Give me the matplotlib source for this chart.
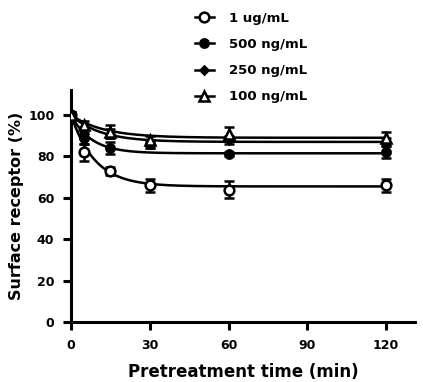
import numpy as np
import matplotlib.pyplot as plt
from matplotlib.lines import Line2D

# time points (min)
t = [0, 5, 15, 30, 60, 120]
labels = ["1 ug/mL", "500 ng/mL", "250 ng/mL", "100 ng/mL"]
vals_1ug = [100, 82, 73, 66, 64, 66]
err_1ug = [1.5, 4, 2, 3, 4, 3]
vals_500 = [100, 89, 84, 86, 81, 82]
err_500 = [1.5, 3, 3, 2, 1, 3]
vals_250 = [100, 91, 91, 86, 88, 87]
err_250 = [1.5, 2, 2, 2, 2, 2]
vals_100 = [100, 95, 92, 88, 91, 89]
err_100 = [1.5, 2, 3, 2, 3, 3]
# one-phase decay fit parameters
plateau = [65.5, 81.5, 87.0, 89.0]
rate_k = [0.11, 0.13, 0.09, 0.08]

series = [vals_1ug, vals_500, vals_250, vals_100]
errs = [err_1ug, err_500, err_250, err_100]
markers = ["o", "o", "D", "^"]
faces = ["white", "black", "black", "white"]
msizes = [7, 6, 4.5, 7.5]

plt.rcParams['font.family'] = ['DejaVu Sans']
plt.rcParams['font.weight'] = 'bold'

fig = plt.figure(figsize=(4.23, 3.82), dpi=100)
ax = fig.add_axes([0.168, 0.157, 0.813, 0.607])

tt = np.linspace(0, 120, 300)
handles = []
for i in range(4):
    fit = plateau[i] + (100 - plateau[i]) * np.exp(-rate_k[i] * tt)
    ax.plot(tt, fit, color='black', lw=1.8, zorder=2)
    ax.errorbar(t, series[i], yerr=errs[i], fmt=markers[i], ms=msizes[i],
                mfc=faces[i], mec='black', mew=1.8, ecolor='black',
                elinewidth=1.8, capsize=3.5, capthick=1.8, color='black',
                zorder=3)
    handles.append(Line2D([], [], color='black', lw=1.8, marker=markers[i],
                          ms=msizes[i], mfc=faces[i], mec='black', mew=1.8))

ax.set_xlim(0, 131)
ax.set_ylim(0, 112)
ax.set_xticks([0, 30, 60, 90, 120])
ax.set_yticks([0, 20, 40, 60, 80, 100])
for s in ['top', 'right']:
    ax.spines[s].set_visible(False)
for s in ['left', 'bottom']:
    ax.spines[s].set_linewidth(2.2)
ax.tick_params(direction='out', length=6, width=2.2, labelsize=9, pad=6)
ax.set_xlabel("Pretreatment time (min)", fontsize=12, fontweight='bold', labelpad=8)
ax.set_ylabel("Surface receptor (%)", fontsize=11.5, fontweight='bold', labelpad=3)

fig.legend(handles=handles, labels=labels, loc='center left',
           bbox_to_anchor=(0.46, 0.849), frameon=False, fontsize=9.5,
           handlelength=1.5, labelspacing=1.0, handletextpad=1.1,
           borderpad=0, borderaxespad=0)

plt.savefig("out.png", dpi=100)
plt.close(fig)
